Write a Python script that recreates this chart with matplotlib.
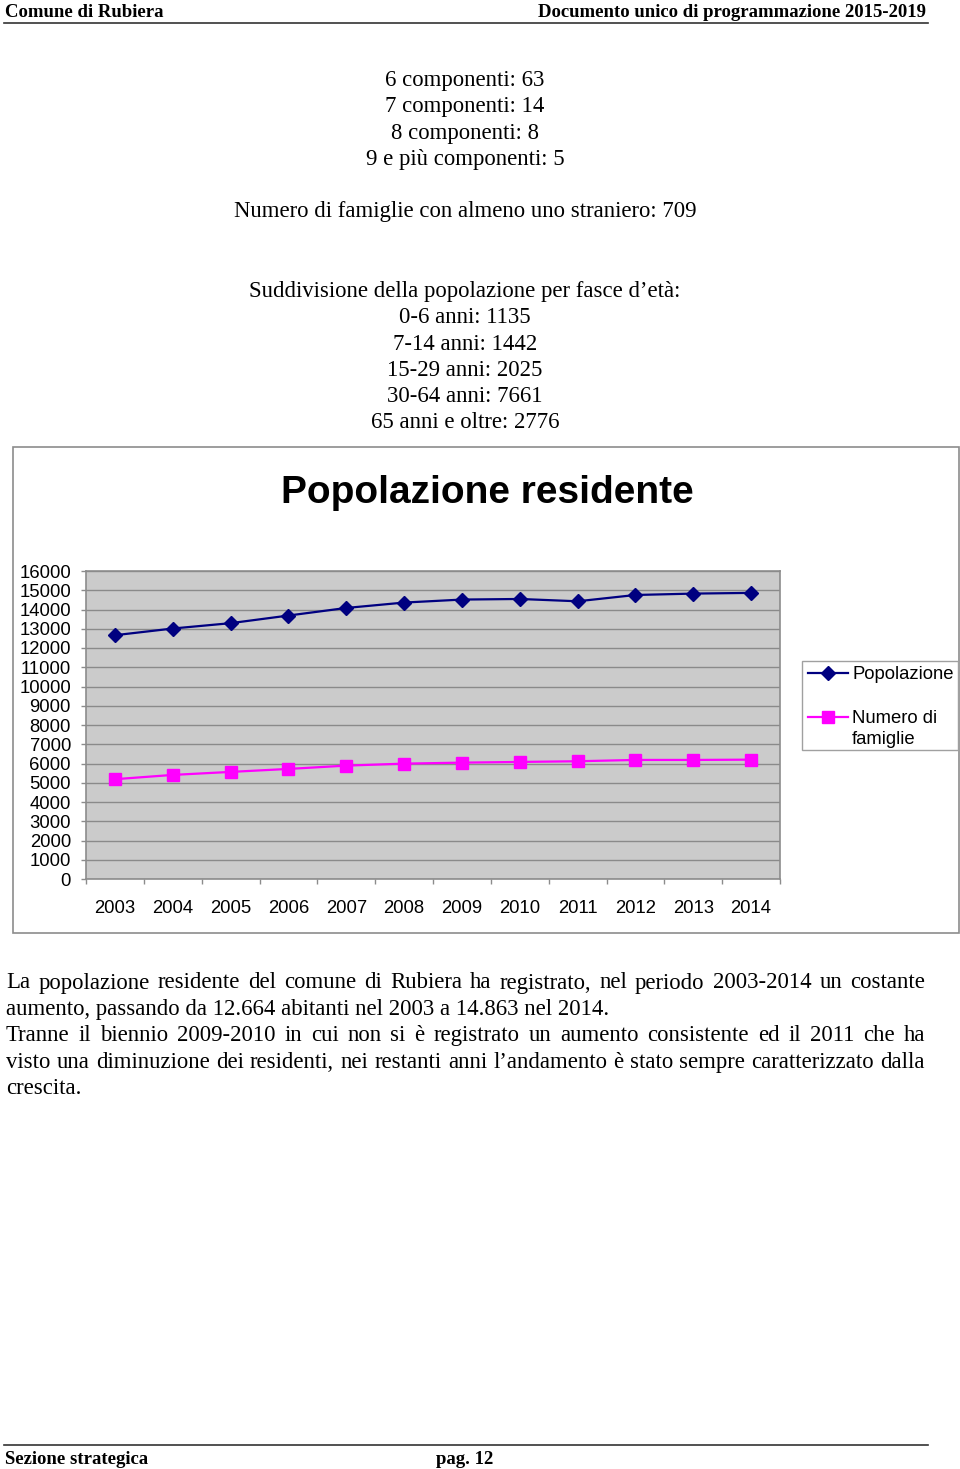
import matplotlib
matplotlib.use("Agg")
import matplotlib.pyplot as plt
import numpy as np
from matplotlib.patches import Rectangle
from matplotlib.lines import Line2D

# ---------------- data ----------------
years = ["2003", "2004", "2005", "2006", "2007", "2008",
         "2009", "2010", "2011", "2012", "2013", "2014"]
popolazione = [12664, 13012, 13290, 13686, 14080, 14360,
               14516, 14547, 14427, 14754, 14826, 14863]
famiglie = [5184, 5407, 5563, 5718, 5890, 5993,
            6045, 6081, 6117, 6185, 6185, 6200]
y_ticks = list(range(0, 16001, 1000))

chart_title = "Popolazione residente"
legend_labels = ["Popolazione", "Numero di\nfamiglie"]

header_left = "Comune di Rubiera"
header_right = "Documento unico di programmazione 2015-2019"
footer_left = "Sezione strategica"
footer_center = "pag. 12"

top_lines = ["6 componenti: 63", "7 componenti: 14", "8 componenti: 8",
             "9 e più componenti: 5", "",
             "Numero di famiglie con almeno uno straniero: 709"]
age_lines = ["Suddivisione della popolazione per fasce d’età:",
             "0-6 anni: 1135", "7-14 anni: 1442", "15-29 anni: 2025",
             "30-64 anni: 7661", "65 anni e oltre: 2776"]
para_lines = [
    ("La popolazione residente del comune di Rubiera ha registrato, nel periodo 2003-2014 un costante", True),
    ("aumento, passando da 12.664 abitanti nel 2003 a 14.863 nel 2014.", False),
    ("Tranne il biennio 2009-2010 in cui non si è registrato un aumento consistente ed il 2011 che ha", True),
    ("visto una diminuzione dei residenti, nei restanti anni l’andamento è stato sempre caratterizzato dalla", True),
    ("crescita.", False),
]

# ---------------- figure ----------------
W, H = 960, 1469
fig = plt.figure(figsize=(W / 100, H / 100), dpi=100)
fig.patch.set_facecolor("white")

SERIF = "Liberation Serif"
SANS = "Liberation Sans"
BODY = 16.4


def fx(x):
    return x / W


def fy(y):
    return 1 - y / H


def ftext(x, y, s, **kw):
    return fig.text(fx(x), fy(y), s, **kw)


# header / footer
ftext(5, 17, header_left, family=SERIF, weight="bold", fontsize=13.5, ha="left", va="baseline")
ftext(926, 17, header_right, family=SERIF, weight="bold", fontsize=13.5, ha="right", va="baseline")
fig.add_artist(Line2D([fx(4), fx(928)], [fy(22.5), fy(22.5)], color="#333333", lw=1.2))
fig.add_artist(Line2D([fx(4), fx(928)], [fy(1445), fy(1445)], color="#333333", lw=1.2))
ftext(5, 1464, footer_left, family=SERIF, weight="bold", fontsize=13.5, ha="left", va="baseline")
ftext(436, 1464, footer_center, family=SERIF, weight="bold", fontsize=13.5, ha="left", va="baseline")

# centered text blocks
for i, s in enumerate(top_lines):
    if s:
        ftext(465, 86 + i * 26.3, s, family=SERIF, fontsize=BODY, ha="center", va="baseline")
for i, s in enumerate(age_lines):
    ftext(465, 297 + i * 26.3, s, family=SERIF, fontsize=BODY, ha="center", va="baseline")

# chart frame
fig.add_artist(Rectangle((fx(13), fy(933)), fx(959) - fx(13), fy(447) - fy(933),
                         transform=fig.transFigure, fill=False, edgecolor="#8c8c8c", lw=1.2))
ftext(487, 503, chart_title, family=SANS, weight="bold", fontsize=28, ha="center", va="baseline")

# axes
ax = fig.add_axes([fx(86), fy(879), fx(780) - fx(86), fy(571) - fy(879)])
ax.set_facecolor("#cbcbcb")
x = np.arange(len(years))
series = [(popolazione, "#000080", "D", 7.0), (famiglie, "#ff00ff", "s", 8.5)]
for vals, col, mk, ms in series:
    ax.plot(x, vals, color=col, lw=1.6, marker=mk, ms=ms,
            markerfacecolor=col, markeredgecolor=col, zorder=3)
ax.set_xlim(-0.5, len(years) - 0.5)
ax.set_ylim(0, 16000)
ax.set_yticks(y_ticks)
ax.set_yticklabels([str(v) for v in y_ticks], family=SANS, fontsize=13.3)
ax.set_xticks(x)
ax.set_xticklabels(years, family=SANS, fontsize=13.3)
ax.set_xticks(np.arange(-0.5, len(years), 1.0), minor=True)
ax.tick_params(axis="x", which="major", length=0, pad=15)
ax.tick_params(axis="x", which="minor", length=3.8, color="#8c8c8c", width=1)
ax.tick_params(axis="y", which="major", length=3.8, color="#8c8c8c", width=1, pad=7)
ax.yaxis.grid(True, color="#8a8a8a", lw=1)
ax.set_axisbelow(True)
for sp in ax.spines.values():
    sp.set_color("#8c8c8c")
    sp.set_linewidth(1.2)

# legend (Excel style: handle aligned with first text line)
fig.add_artist(Rectangle((fx(802), fy(750)), fx(958) - fx(802), fy(661) - fy(750),
                         transform=fig.transFigure, fill=False, edgecolor="#a0a0a0", lw=1.0))
leg_y = [673, 716.5]
for (vals, col, mk, ms), lab, yy in zip(series, legend_labels, leg_y):
    fig.add_artist(Line2D([fx(808), fx(848)], [fy(yy), fy(yy)], color=col, lw=1.6))
    fig.add_artist(Line2D([fx(828)], [fy(yy)], color=col, marker=mk, ms=ms,
                          markerfacecolor=col, markeredgecolor=col, lw=0))
    ftext(852, yy - 6.8, lab, family=SANS, fontsize=13.3, ha="left", va="top",
          linespacing=1.35)

# justified paragraph
renderer = fig.canvas.get_renderer()
LEFT, RIGHT = 6, 925
for i, (line, just) in enumerate(para_lines):
    yb = 988.5 + i * 26.4
    if not just:
        ftext(LEFT, yb, line, family=SERIF, fontsize=BODY, ha="left", va="baseline")
        continue
    words = line.split(" ")
    objs = [ftext(0, yb, w, family=SERIF, fontsize=BODY, ha="left", va="baseline") for w in words]
    widths = [o.get_window_extent(renderer).width for o in objs]
    gap = (RIGHT - LEFT - sum(widths)) / (len(words) - 1)
    xpos = LEFT
    for o, w in zip(objs, widths):
        o.set_x(fx(xpos))
        xpos += w + gap

fig.savefig("out.png", dpi=100)
